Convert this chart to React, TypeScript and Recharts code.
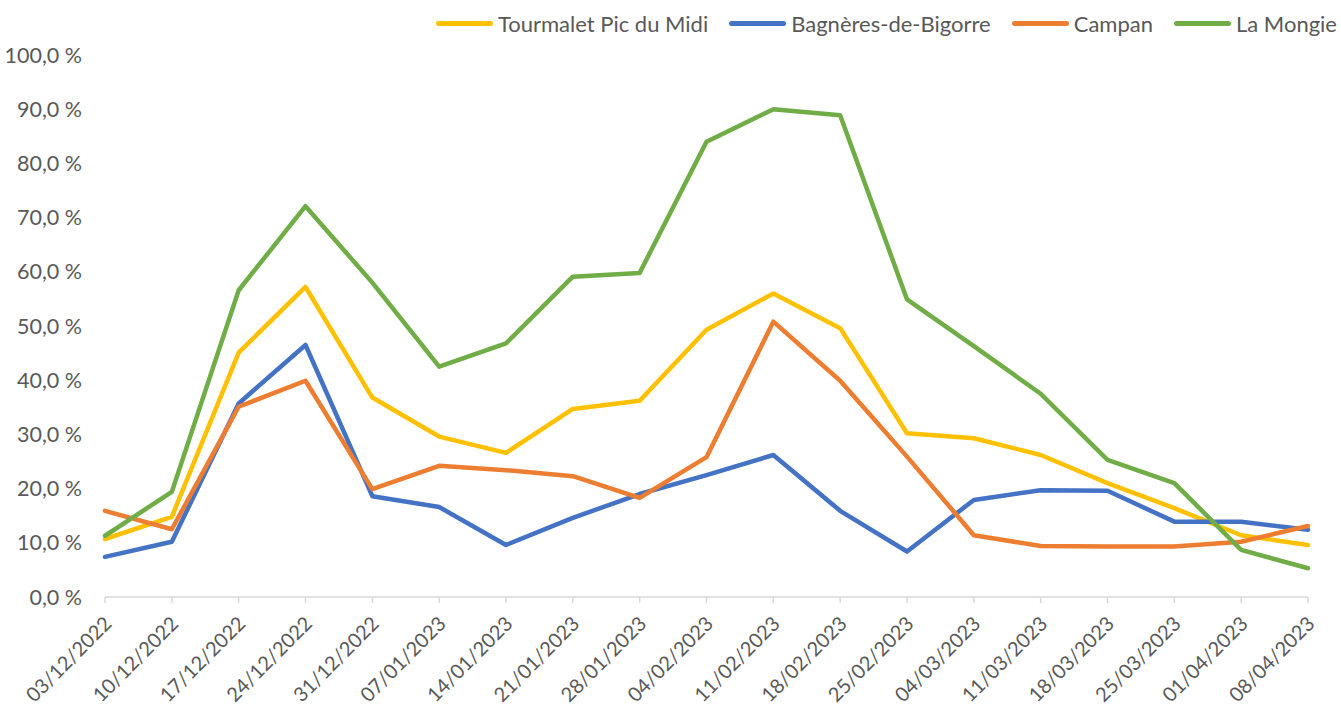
import React from "react";
import { LineChart, Line, XAxis, YAxis, Legend } from "recharts";

const categories = [
  "03/12/2022", "10/12/2022", "17/12/2022", "24/12/2022", "31/12/2022",
  "07/01/2023", "14/01/2023", "21/01/2023", "28/01/2023", "04/02/2023",
  "11/02/2023", "18/02/2023", "25/02/2023", "04/03/2023", "11/03/2023",
  "18/03/2023", "25/03/2023", "01/04/2023", "08/04/2023",
];
const tourmalet = [10.7, 14.8, 45.1, 57.2, 36.8, 29.6, 26.6, 34.7, 36.2, 49.3, 56.0, 49.6, 30.2, 29.3, 26.2, 21.0, 16.4, 11.4, 9.6];
const bagneres = [7.4, 10.2, 35.7, 46.5, 18.6, 16.6, 9.6, 14.6, 19.0, 22.5, 26.2, 15.9, 8.4, 17.9, 19.7, 19.6, 13.9, 13.9, 12.4];
const campan = [15.9, 12.5, 35.1, 39.9, 19.9, 24.2, 23.4, 22.3, 18.3, 25.8, 50.8, 39.9, 25.9, 11.4, 9.4, 9.3, 9.3, 10.2, 13.1];
const laMongie = [11.3, 19.4, 56.6, 72.1, 58.0, 42.5, 46.8, 59.1, 59.8, 84.0, 90.0, 88.9, 54.9, 46.3, 37.5, 25.3, 21.0, 8.7, 5.3];
const yTicks = [0, 10, 20, 30, 40, 50, 60, 70, 80, 90, 100];

const seriesNames = ["Tourmalet Pic du Midi", "Bagnères-de-Bigorre", "Campan", "La Mongie"];
const seriesColors = ["#FFC000", "#4472C4", "#ED7D31", "#70AD47"];
const seriesValues = [tourmalet, bagneres, campan, laMongie];

const data = categories.map((date, i) => {
  const row: Record<string, string | number> = { date };
  seriesNames.forEach((n, s) => {
    row[n] = seriesValues[s][i];
  });
  return row;
});

const FONT = "Lato, 'Open Sans', sans-serif";
const TEXT = "#595959";

const fmt = (v: number) => v.toFixed(1).replace(".", ",") + " %";

const XTick = (props: any) => {
  const { x, y, payload } = props;
  const ax = x + 3;
  const ay = y + 15;
  return (
    <text
      x={ax}
      y={ay}
      transform={`rotate(-45, ${ax}, ${ay})`}
      textAnchor="end"
      dy="0.35em"
      fill={TEXT}
      fontSize={20}
      fontFamily={FONT}
    >
      {payload.value}
    </text>
  );
};

const LegendContent = () => (
  <div
    style={{
      height: 55,
      display: "flex",
      justifyContent: "flex-end",
      alignItems: "flex-start",
      fontFamily: FONT,
      fontSize: 22,
      color: TEXT,
      whiteSpace: "nowrap",
    }}
  >
    {seriesNames.map((n, i) => (
      <div key={n} style={{ display: "flex", alignItems: "center", height: 47, marginLeft: i === 0 ? 0 : 21 }}>
        <span
          style={{
            display: "inline-block",
            width: 57,
            height: 5,
            borderRadius: 3,
            background: seriesColors[i],
            marginRight: 5,
          }}
        />
        <span>{n}</span>
      </div>
    ))}
  </div>
);

export default function App() {
  return (
    <div style={{ position: "absolute", left: 0, top: 0, width: 1341, height: 708, background: "#fff" }}>
      <LineChart width={1341} height={708} data={data} margin={{ top: 0, right: 33, bottom: 0, left: 0 }}>
        <Legend
          verticalAlign="top"
          align="right"
          content={<LegendContent />}
          wrapperStyle={{ left: 0, top: 0, width: 1337 }}
        />
        <XAxis
          dataKey="date"
          scale="point"
          padding={{ left: 0, right: 0 }}
          interval={0}
          height={111}
          axisLine={{ stroke: "#D9D9D9", strokeWidth: 1.5 }}
          tickLine={{ stroke: "#D9D9D9", strokeWidth: 1.5 }}
          tickSize={6}
          tick={<XTick />}
        />
        <YAxis
          domain={[0, 100]}
          ticks={yTicks}
          width={105}
          axisLine={false}
          tickLine={false}
          tickSize={0}
          tickMargin={23}
          tickFormatter={fmt}
          tick={{ fill: TEXT, fontSize: 21.5, fontFamily: FONT }}
          interval={0}
        />
        {seriesNames.map((n, i) => (
          <Line
            key={n}
            dataKey={n}
            type="linear"
            stroke={seriesColors[i]}
            strokeWidth={4.5}
            strokeLinejoin="round"
            strokeLinecap="round"
            dot={false}
            activeDot={false}
            isAnimationActive={false}
          />
        ))}
      </LineChart>
    </div>
  );
}
